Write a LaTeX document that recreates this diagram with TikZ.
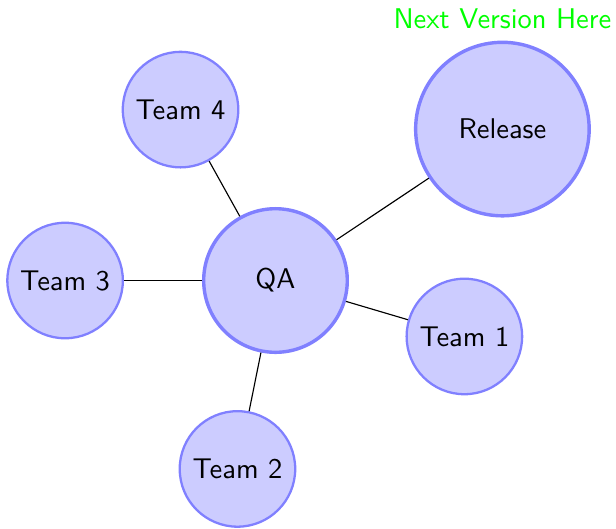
\documentclass[tikz,border=0pt]{standalone}
\usepackage{tikz}
\usetikzlibrary{positioning}

\begin{document}
\begin{tikzpicture}[
            font=\sffamily,
            hub/.style={circle, draw=blue!50, fill=blue!20, very thick},
            team/.style={circle, draw=blue!50, fill=blue!20, thick},
            link/.style={black}
          ]
          \useasboundingbox (-3.398,-3.053) rectangle (4.200,3.460);
          \node[hub, minimum size=50.4pt] (qa) at (0,0) {QA};
          \node[hub, minimum size=60.9pt,
                label={[text=green, label distance=0.5pt]above:Next Version Here}]
                (release) at (2.799,1.868) {Release};
          \node[team] (team1) at (2.330,-0.690) {Team 1};
          \node[team] (team2) at (-0.469,-2.324) {Team 2};
          \node[team] (team3) at (-2.595,0) {Team 3};
          \node[team] (team4) at (-1.171,2.108) {Team 4};
          \draw[link] (qa)--(release);
          \draw[link] (qa)--(team1);
          \draw[link] (qa)--(team2);
          \draw[link] (qa)--(team3);
          \draw[link] (qa)--(team4);
        \end{tikzpicture}
\end{document}
